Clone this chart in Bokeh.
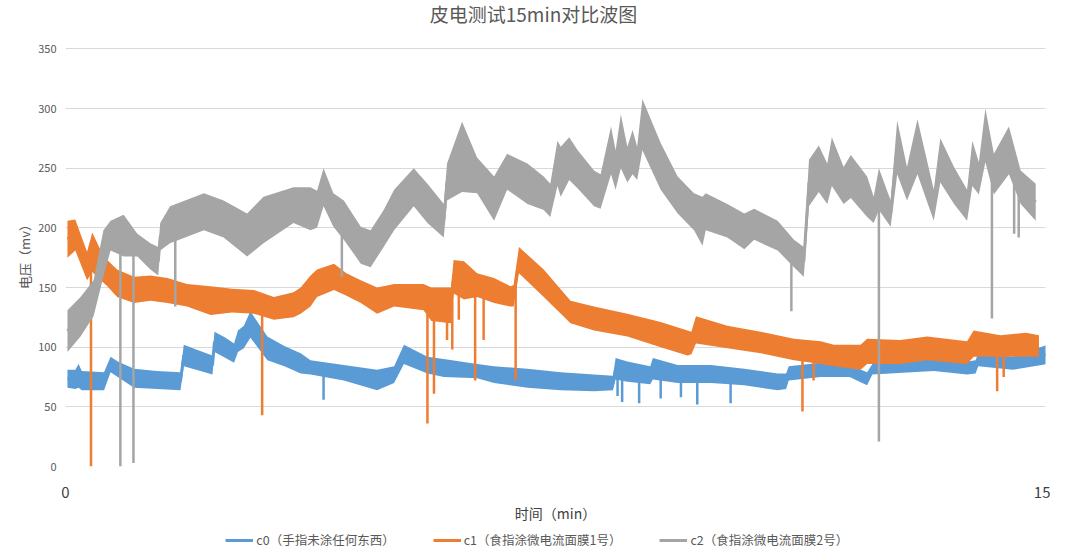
import numpy as np
from bokeh.plotting import figure
from bokeh.layouts import column, row
from bokeh.models import (Range1d, FixedTicker, Legend, LegendItem, ColumnDataSource, Spacer,
                          Label)
from bokeh.embed import file_html
from bokeh.resources import INLINE

# 数据：各通道上/下包络（时间单位 min，电压 mv）
c0_t = [0.03, 0.15, 0.2, 0.25, 0.59, 0.69, 0.8, 1.05, 1.4, 1.76, 1.81, 2.0, 2.25, 2.28, 2.45, 2.58,
        2.64, 2.73, 2.83, 3.09, 3.35, 3.6, 3.75, 4.26, 4.77, 5.03, 5.18, 5.54, 5.79, 6.3, 6.56, 7.07,
        7.58, 8.09, 8.38, 8.42, 8.6, 8.95, 8.99, 9.37, 9.88, 10.39, 10.9, 11.03, 11.07, 11.56, 12.0,
        12.27, 12.35, 13.29, 13.8, 13.93, 13.97, 14.5, 15.03]
c0_hi = [81, 81, 86, 80, 79, 92, 88, 82, 80, 79, 102, 98, 93, 113, 108, 103,
         114, 118, 130, 109, 101, 95, 89, 85, 81, 84, 102, 92, 90, 86, 84, 82,
         79, 77, 76, 91, 88, 84, 91, 85, 85, 82, 78, 78, 84, 87, 85,
         79, 86, 90, 88, 89, 95, 92, 102]
c0_lo = [66, 65, 66, 64, 64, 79, 75, 66, 65, 64, 84, 81, 77, 96, 91, 87,
         96, 99, 108, 89, 84, 78, 77, 72, 64, 70, 86, 78, 75, 74, 70, 66,
         64, 63, 64, 73, 71, 69, 73, 70, 70, 68, 64, 65, 72, 75, 75,
         68, 77, 80, 77, 78, 84, 81, 86]
c0_spike_t = [3.95, 8.45, 8.52, 8.78, 9.11, 9.42, 9.67, 10.18]
c0_spike_v = [56, 59, 54, 53, 57, 58, 52, 53]

c1_t = [0.03, 0.15, 0.33, 0.41, 0.54, 0.64, 0.79, 1.05, 1.3, 1.56, 1.86, 2.22, 2.55, 2.88, 3.19,
        3.49, 3.6, 3.75, 3.85, 4.11, 4.3, 4.52, 4.77, 5.03, 5.48, 5.6, 5.9, 5.94, 6.1, 6.3, 6.56,
        6.81, 6.86, 6.94, 7.32, 7.73, 8.09, 8.6, 9.11, 9.52, 9.58, 9.65, 10.13, 10.64, 11.15,
        11.56, 11.76, 12.17, 12.27, 12.78, 13.19, 13.8, 13.9, 14.31, 14.7, 14.9]
c1_hi = [206, 207, 180, 196, 181, 173, 165, 159, 160, 158, 153, 151, 149, 148, 142,
         146, 150, 160, 165, 170, 162, 156, 150, 153, 153, 150, 150, 173, 172, 162, 158,
         151, 152, 184, 165, 139, 134, 128, 121, 114, 113, 126, 118, 113, 107,
         105, 102, 102, 107, 106, 109, 105, 114, 110, 112, 110]
c1_lo = [175, 181, 156, 163, 156, 151, 142, 137, 139, 137, 134, 127, 129, 128, 123,
         125, 128, 134, 142, 148, 143, 137, 128, 134, 131, 122, 120, 145, 140, 142, 137,
         134, 134, 162, 142, 120, 114, 109, 100, 93, 94, 103, 99, 95, 89,
         86, 84, 81, 86, 86, 89, 86, 92, 92, 92, 92]
c1_spike_t = [0.39, 3.01, 5.54, 5.64, 5.84, 5.92, 6.02, 6.27, 6.4, 6.89, 11.28, 11.45, 14.26, 14.36]
c1_spike_v = [0, 43, 36, 61, 106, 98, 123, 72, 106, 72, 46, 72, 63, 75]

c2_t = [0.03, 0.23, 0.43, 0.58, 0.69, 0.89, 1.1, 1.3, 1.42, 1.45, 1.6, 2.12, 2.42, 2.78, 3.03,
        3.49, 3.75, 3.85, 3.95, 4.1, 4.26, 4.52, 4.67, 4.87, 5.03, 5.33, 5.54, 5.79, 5.84, 6.07,
        6.3, 6.56, 6.76, 7.07, 7.32, 7.42, 7.53, 7.58, 7.71, 7.84, 8.09, 8.19, 8.35, 8.42, 8.5,
        8.6, 8.68, 8.75, 8.83, 9.11, 9.37, 9.62, 9.75, 9.8, 10.13, 10.39, 10.54, 10.9, 11.15,
        11.3, 11.38, 11.53, 11.66, 11.73, 11.91, 12.02, 12.27, 12.37, 12.45, 12.63, 12.73,
        12.88, 13.04, 13.29, 13.39, 13.6, 13.8, 13.88, 13.98, 14.08, 14.21, 14.44, 14.62, 14.85]
c2_hi = [131, 142, 156, 198, 206, 211, 195, 187, 184, 204, 218, 229, 223, 212, 226,
         234, 234, 231, 250, 229, 223, 201, 198, 215, 232, 250, 237, 220, 254, 289,
         259, 243, 262, 254, 243, 237, 273, 268, 276, 265, 248, 245, 285, 265, 295,
         268, 282, 268, 308, 271, 243, 229, 226, 229, 220, 212, 216, 206, 190,
         184, 257, 269, 254, 276, 251, 261, 243, 226, 250, 223, 290,
         251, 291, 232, 275, 251, 232, 273, 255, 300, 262, 285, 248, 237]
c2_lo = [96, 109, 126, 159, 181, 176, 176, 165, 160, 181, 187, 198, 192, 176, 187,
         204, 198, 200, 218, 201, 190, 170, 167, 184, 198, 218, 204, 192, 223, 230,
         229, 206, 232, 220, 215, 209, 235, 226, 240, 233, 218, 216, 245, 232, 250,
         238, 245, 240, 265, 232, 212, 198, 185, 198, 192, 182, 190, 181, 167,
         159, 218, 230, 220, 235, 220, 225, 209, 204, 215, 201, 245,
         223, 245, 206, 238, 220, 206, 235, 228, 255, 228, 245, 220, 206]
c2_spike_t = [0.84, 1.04, 1.68, 4.23, 11.11, 12.45, 14.18, 14.52, 14.59]
c2_spike_v = [0, 3, 134, 159, 130, 21, 124, 195, 192]

names = ["c0（手指未涂任何东西）", "c1（食指涂微电流面膜1号）", "c2（食指涂微电流面膜2号）"]
colors = ["#5B9BD5", "#ED7D31", "#A5A5A5"]
FONT = "Noto Sans CJK SC"
GREY = "#595959"


def bare(fig):
    fig.axis.visible = False
    fig.grid.visible = False
    fig.outline_line_color = None
    return fig


# 标题放在上方一个小图里
hd = bare(figure(frame_width=980, frame_height=25, x_range=Range1d(0, 980), y_range=Range1d(0, 25),
                 output_backend="svg", toolbar_location=None, title=None))
hd.add_layout(Label(x=468, y=17, text="皮电测试15min对比波图", text_align="center",
                    text_baseline="middle", text_font=FONT, text_font_size="19px",
                    text_color=GREY))

p = figure(frame_width=980, frame_height=426, x_range=Range1d(0, 15), y_range=Range1d(0, 357),
           output_backend="svg", toolbar_location=None, title=None)

p.outline_line_color = None
p.xgrid.visible = False
p.ygrid.grid_line_color = "#D9D9D9"
p.ygrid.grid_line_width = 1

p.xaxis.ticker = FixedTicker(ticks=[0, 15])
p.xaxis.axis_line_color = None
p.xaxis.major_tick_line_color = None
p.xaxis.minor_tick_line_color = None
p.xaxis.major_tick_out = 0
p.xaxis.major_label_standoff = 20
p.xaxis.major_label_text_font = FONT
p.xaxis.major_label_text_font_size = "15px"
p.xaxis.major_label_text_color = "#404040"
p.xaxis.axis_label = "时间（min）"
p.xaxis.axis_label_standoff = 2
p.xaxis.axis_label_text_font = FONT
p.xaxis.axis_label_text_font_size = "14px"
p.xaxis.axis_label_text_font_style = "normal"
p.xaxis.axis_label_text_color = "#404040"

p.yaxis.ticker = FixedTicker(ticks=list(range(0, 351, 50)))
p.yaxis.axis_line_color = None
p.yaxis.major_tick_line_color = None
p.yaxis.minor_tick_line_color = None
p.yaxis.major_tick_out = 0
p.yaxis.major_label_standoff = 9
p.yaxis.major_label_text_font = FONT
p.yaxis.major_label_text_font_size = "11px"
p.yaxis.major_label_text_color = GREY
p.yaxis.axis_label = "电压（mv）"
p.yaxis.axis_label_standoff = 1
p.yaxis.axis_label_text_font = FONT
p.yaxis.axis_label_text_font_size = "13px"
p.yaxis.axis_label_text_font_style = "normal"
p.yaxis.axis_label_text_color = GREY

# 图例单独放在下方一个小图里
lg = bare(figure(frame_width=1040, frame_height=22, x_range=Range1d(0, 15),
                 y_range=Range1d(1000, 1001), output_backend="svg", toolbar_location=None,
                 title=None))

series = [
    (c0_t, c0_hi, c0_lo, c0_spike_t, c0_spike_v),
    (c1_t, c1_hi, c1_lo, c1_spike_t, c1_spike_v),
    (c2_t, c2_hi, c2_lo, c2_spike_t, c2_spike_v),
]

items = []
for (t, hi, lo, st, sv), name, col in zip(series, names, colors):
    p.varea(x=t, y1=lo, y2=hi, fill_color=col)
    mid = (np.array(hi) + np.array(lo)) / 2
    p.line(x=t, y=mid, line_color=col, line_width=3)
    # 毛刺：从波带中部向下的尖峰
    start = np.interp(st, t, mid)
    src = ColumnDataSource(dict(x=st, y0=start, y1=sv))
    p.segment(x0="x", y0="y0", x1="x", y1="y1", source=src, line_color=col, line_width=2.5)
    lr = lg.line(x=t, y=mid, line_color=col, line_width=3)
    items.append(LegendItem(label=name, renderers=[lr]))

legend = Legend(items=items, orientation="horizontal", location=(210, 3),
                border_line_color=None, background_fill_alpha=0,
                label_text_font=FONT, label_text_font_size="12.5px", label_text_color=GREY,
                label_height=14, glyph_width=28, glyph_height=12,
                spacing=38, padding=0, margin=0, label_standoff=3)
lg.add_layout(legend, "center")

layout = row(Spacer(width=12), column(hd, p, lg))
open("out.html", "w").write(file_html(layout, INLINE))
